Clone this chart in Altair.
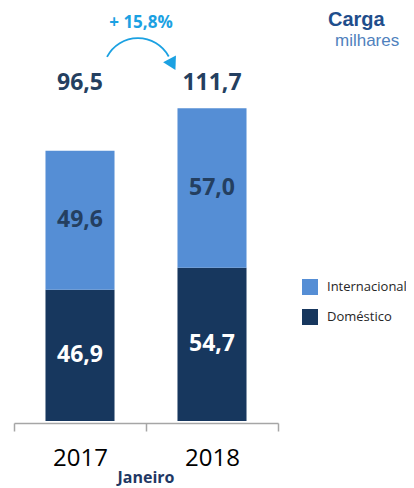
import altair as alt
import pandas as pd

# ---- data ----
anos = ["2017", "2018"]
domestico = [46.9, 54.7]
internacional = [49.6, 57.0]
totais = [96.5, 111.7]
variacao = "+ 15,8%"
series = ["Internacional", "Doméstico"]
cores = ["#558ED5", "#17375E"]


def fmt(v):
    return f"{v:.1f}".replace(".", ",")


rows = []
for i, a in enumerate(anos):
    rows.append({"ano": a, "tipo": "Doméstico", "ordem": 0,
                 "valor": domestico[i], "rotulo": fmt(domestico[i])})
    rows.append({"ano": a, "tipo": "Internacional", "ordem": 1,
                 "valor": internacional[i], "rotulo": fmt(internacional[i])})
df = pd.DataFrame(rows)
tot = pd.DataFrame({"ano": anos, "total": totais, "rotulo": [fmt(v) for v in totais]})
one = pd.DataFrame({"k": [0]})

W, H = 264, 408
ymax = H / 2.8

xenc = alt.X(
    "ano:N",
    scale=alt.Scale(paddingInner=0, paddingOuter=0),
    axis=alt.Axis(
        title=None, labelAngle=0, labelFont="Open Sans", labelFontSize=24,
        labelColor="#000000", domainColor="#A6A6A6", domainWidth=1.5,
        tickColor="#A6A6A6", tickWidth=1.5, tickSize=8, tickBand="extent",
        offset=2, labelBaseline="alphabetic", labelPadding=34,
    ),
)
yscale = alt.Scale(domain=[0, ymax], nice=False, zero=True)

base = alt.Chart(df).transform_stack(
    stack="valor", groupby=["ano"], sort=[alt.SortField("ordem")], as_=["y0", "y1"]
).transform_calculate(mid="(datum.y0 + datum.y1) / 2")

bars = base.mark_bar(width=alt.RelativeBandSize(0.523)).encode(
    x=xenc,
    y=alt.Y("y0:Q", scale=yscale, axis=None),
    y2="y1:Q",
    color=alt.Color(
        "tipo:N",
        scale=alt.Scale(domain=series, range=cores),
        legend=alt.Legend(
            title=None, orient="none", legendX=288, legendY=266,
            symbolType="square", symbolSize=256, symbolStrokeWidth=0,
            labelFont="Open Sans", labelFontSize=13, labelColor="#262626",
            labelOffset=9, rowPadding=14, padding=0,
        ),
    ),
)

seg = base.mark_text(font="Open Sans", fontWeight="bold", fontSize=23, baseline="middle").encode(
    x=xenc,
    y=alt.Y("mid:Q", scale=yscale, axis=None),
    text="rotulo:N",
    color=alt.condition(alt.datum.tipo == "Doméstico", alt.value("white"), alt.value("#243F60")),
)

totl = alt.Chart(tot).mark_text(font="Open Sans", fontWeight="bold", fontSize=23, baseline="middle").encode(
    x=xenc, y=alt.value(70), text="rotulo:N", color=alt.value("#243F60")
)

arc = alt.Chart(one).mark_arc(
    theta=5.19, theta2=7.36, innerRadius=34, outerRadius=35.8, color="#1BA1E2"
).encode(x=alt.value(124), y=alt.value(60))

tri = alt.Chart(one).mark_point(
    shape="triangle", filled=True, size=210, angle=152, color="#1BA1E2", opacity=1
).encode(x=alt.value(157.5), y=alt.value(49.5))

growth = alt.Chart(one).mark_text(
    font="Open Sans", fontWeight="bold", fontSize=17, color="#1BA1E2", baseline="alphabetic"
).encode(x=alt.value(127), y=alt.value(15), text=alt.value(variacao))

t1 = alt.Chart(one).mark_text(
    font="Liberation Sans", fontWeight="bold", fontSize=20, color="#1F4E8C", baseline="alphabetic", align="left"
).encode(x=alt.value(314), y=alt.value(13), text=alt.value("Carga"))

t2 = alt.Chart(one).mark_text(
    font="Liberation Sans", fontSize=17, color="#4F81BD", baseline="alphabetic", align="left"
).encode(x=alt.value(321), y=alt.value(33), text=alt.value("milhares"))

jan = alt.Chart(one).mark_text(
    font="Open Sans", fontWeight="bold", fontSize=16, color="#1F3864", baseline="alphabetic"
).encode(x=alt.value(132), y=alt.value(470), text=alt.value("Janeiro"))

chart = alt.layer(bars, seg, totl, arc, tri, growth, t1, t2, jan).properties(
    width=W, height=H,
    autosize=alt.AutoSizeParams(type="none"),
    padding={"left": 6, "top": 5, "right": 128, "bottom": 67},
).configure_view(stroke=None)

chart.save("out.html", embed_options={"renderer": "svg", "actions": False})
